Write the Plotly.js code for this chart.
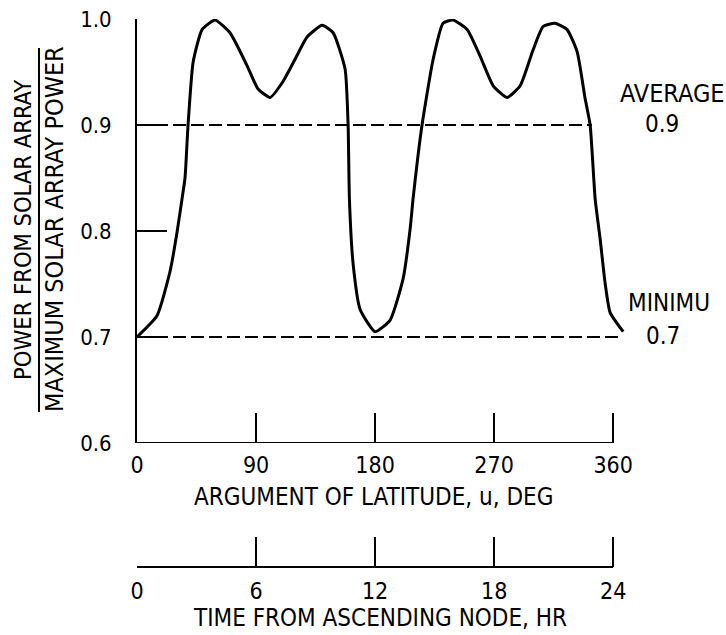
<!DOCTYPE html>
<html>
<head>
<meta charset="utf-8">
<script src="https://cdn.plot.ly/plotly-3.0.1.min.js"></script>
<style>html,body{margin:0;padding:0;background:#fff;}#chart{width:726px;height:635px;}</style>
</head>
<body>
<div id="chart"></div>
<script>
// Argument of latitude (deg) and normalized solar array power
var latitudeDeg = [0, 15.1, 25.0, 30.3, 34.0, 36.3, 38.6, 42.4, 49.2, 59.0, 70.3, 83.2, 91.5, 100.6, 110.4, 119.5, 128.6, 140.0, 148.3, 157.3, 159.6, 160.6, 163.4, 168.7, 180.0, 191.4, 201.2, 206.5, 208.7, 215.5, 223.9, 231.4, 239.0, 249.6, 259.4, 269.3, 279.8, 289.7, 299.5, 307.1, 316.1, 325.2, 332.8, 338.8, 342.6, 346.4, 350.2, 354.0, 357.7, 367.6];
var powerRatio = [0.700, 0.720, 0.762, 0.799, 0.830, 0.850, 0.900, 0.959, 0.990, 0.999, 0.987, 0.956, 0.934, 0.926, 0.941, 0.962, 0.983, 0.994, 0.987, 0.953, 0.900, 0.830, 0.769, 0.726, 0.705, 0.716, 0.755, 0.802, 0.830, 0.900, 0.962, 0.996, 0.999, 0.990, 0.965, 0.937, 0.926, 0.937, 0.971, 0.993, 0.996, 0.990, 0.969, 0.925, 0.900, 0.830, 0.792, 0.750, 0.723, 0.705];

var averageX = [0, 344];
var averageY = [0.9, 0.9];
var minimumX = [0, 367];
var minimumY = [0.7, 0.7];

var degTicks = [0, 90, 180, 270, 360];
var degLabels = ["0", "90", "180", "270", "360"];
var hrTicks = [0, 6, 12, 18, 24];
var hrLabels = ["0", "6", "12", "18", "24"];
var yTicks = [0.6, 0.7, 0.8, 0.9, 1.0];
var yLabels = ["0.6", "0.7", "0.8", "0.9", "1.0"];

var FONT = "'Liberation Sans Narrow', 'DejaVu Sans Condensed', 'Arial Narrow', sans-serif";

var traces = [
  {x: latitudeDeg, y: powerRatio, mode: "lines", line: {color: "#000", width: 3, shape: "spline", smoothing: 0.5}, hoverinfo: "skip", showlegend: false},
  {x: averageX, y: averageY, mode: "lines", line: {color: "#000", width: 2, dash: "13px,5px"}, hoverinfo: "skip", showlegend: false},
  {x: minimumX, y: minimumY, mode: "lines", line: {color: "#000", width: 2, dash: "13px,5px"}, hoverinfo: "skip", showlegend: false},
  {x: [0, 24], y: [0.6, 0.6], xaxis: "x2", yaxis: "y", mode: "markers", marker: {opacity: 0}, hoverinfo: "skip", showlegend: false}
];

var layout = {
  width: 726, height: 635,
  margin: {l: 137, r: 93, t: 19, b: 68},
  paper_bgcolor: "#fff", plot_bgcolor: "#fff",
  font: {family: FONT, color: "#000"},
  xaxis: {range: [0, 375], anchor: "y", showline: false, showgrid: false, zeroline: false,
          ticks: "inside", ticklen: 30, tickwidth: 2, tickcolor: "#000",
          tickmode: "array", tickvals: degTicks, ticktext: degLabels, ticklabelstandoff: 6,
          tickfont: {family: FONT, size: 23, color: "#000"}},
  xaxis2: {range: [0, 25], overlaying: "x", anchor: "free", position: 0, side: "bottom",
           showline: false, showgrid: false, zeroline: false,
           ticks: "inside", ticklen: 30, tickwidth: 2, tickcolor: "#000",
           tickmode: "array", tickvals: hrTicks, ticktext: hrLabels, ticklabelstandoff: 8,
           tickfont: {family: FONT, size: 23, color: "#000"}},
  yaxis: {domain: [0.2263, 1], range: [0.6, 1.0], showline: true, linewidth: 2, linecolor: "#000",
          showgrid: false, zeroline: false,
          ticks: "inside", ticklen: 30, tickwidth: 2, tickcolor: "#000",
          tickmode: "array", tickvals: yTicks, ticktext: yLabels, ticklabelstandoff: 19,
          tickfont: {family: FONT, size: 22, color: "#000"}},
  shapes: [
    {type: "line", xref: "x", yref: "y", x0: 0, x1: 360, y0: 0.6, y1: 0.6, line: {color: "#000", width: 2}},
    {type: "line", xref: "x2", yref: "paper", x0: 0, x1: 24, y0: 0, y1: 0, line: {color: "#000", width: 2}},
    {type: "line", xref: "paper", yref: "paper", x0: -0.1976, x1: -0.1976, y0: 0.947, y1: 0.283, line: {color: "#000", width: 2}}
  ],
  annotations: [
    {text: "POWER FROM SOLAR ARRAY", xref: "paper", yref: "paper", x: (23-137)/496, y: (567-230)/548, textangle: -90, showarrow: false, xanchor: "center", yanchor: "middle", font: {family: FONT, size: 23.5}},
    {text: "MAXIMUM SOLAR ARRAY POWER", xref: "paper", yref: "paper", x: (54-137)/496, y: (567-229)/548, textangle: -90, showarrow: false, xanchor: "center", yanchor: "middle", font: {family: FONT, size: 25}},
    {text: "ARGUMENT OF LATITUDE, u, DEG", xref: "paper", yref: "paper", x: (373-137)/496, y: (567-497)/548, showarrow: false, xanchor: "center", yanchor: "middle", font: {family: FONT, size: 24}},
    {text: "TIME FROM ASCENDING NODE, HR", xref: "paper", yref: "paper", x: (380-137)/496, y: (567-618)/548, showarrow: false, xanchor: "center", yanchor: "middle", font: {family: FONT, size: 24}},
    {text: "AVERAGE", xref: "paper", yref: "paper", x: (672-137)/496, y: (567-93)/548, showarrow: false, xanchor: "center", yanchor: "middle", font: {family: FONT, size: 25}},
    {text: "0.9", xref: "paper", yref: "paper", x: (662-137)/496, y: (567-124)/548, showarrow: false, xanchor: "center", yanchor: "middle", font: {family: FONT, size: 24}},
    {text: "MINIMU", xref: "paper", yref: "paper", x: (669-137)/496, y: (567-303)/548, showarrow: false, xanchor: "center", yanchor: "middle", font: {family: FONT, size: 24}},
    {text: "0.7", xref: "paper", yref: "paper", x: (663-137)/496, y: (567-336)/548, showarrow: false, xanchor: "center", yanchor: "middle", font: {family: FONT, size: 24}}
  ]
};

Plotly.newPlot("chart", traces, layout, {displayModeBar: false, staticPlot: true});
</script>
</body>
</html>
